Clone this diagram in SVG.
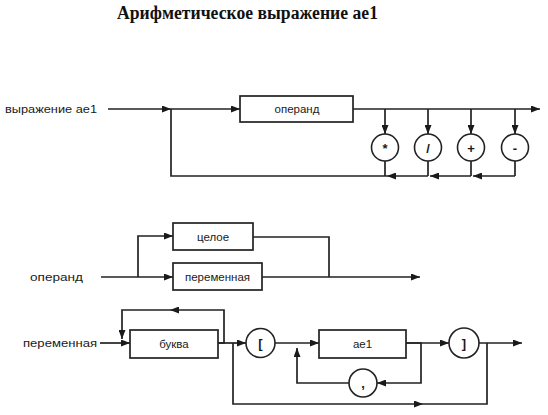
<svg xmlns="http://www.w3.org/2000/svg" width="548" height="415" viewBox="0 0 548 415">
<defs>
<marker id="ah" viewBox="0 0 9 7" refX="9" refY="3.5" markerWidth="9" markerHeight="7" markerUnits="userSpaceOnUse" orient="auto">
<path d="M0,0 L9,3.5 L0,7 z" fill="#1a1a1a"/>
</marker>
</defs>
<style>
.ln{fill:none;stroke:#222;stroke-width:1.7}
.ar{fill:none;stroke:#222;stroke-width:1.7;marker-end:url(#ah)}
.bx{fill:#fff;stroke:#222;stroke-width:1.7}
.ci{fill:#fff;stroke:#222;stroke-width:1.6}
.t{font-family:"Liberation Sans",Arial,sans-serif;font-size:11.5px;fill:#1a1a1a}
.s{font-family:"Liberation Sans",Arial,sans-serif;font-size:13px;font-weight:bold;fill:#1a1a1a}
.c{text-anchor:middle;dominant-baseline:central}
.title{font-family:"Liberation Serif","Times New Roman",serif;font-size:18px;font-weight:bold;fill:#111}
</style>
<rect width="548" height="415" fill="#fff"/>
<text class="title" x="117" y="19" textLength="261" lengthAdjust="spacingAndGlyphs">Арифметическое выражение ае1</text>

<text class="t" x="5" y="113" textLength="92" lengthAdjust="spacingAndGlyphs">выражение ае1</text>
<text class="t" x="30" y="281" textLength="53" lengthAdjust="spacingAndGlyphs">операнд</text>
<text class="t" x="23" y="347" textLength="74" lengthAdjust="spacingAndGlyphs">переменная</text>

<g id="connectors">
<path class="ar" d="M108,109 H171"/>
<path class="ar" d="M171,109 H240"/>
<path class="ar" d="M353,109 H540"/>
<path class="ar" d="M385,109 V134"/>
<path class="ar" d="M428,109 V134"/>
<path class="ar" d="M471,109 V134"/>
<path class="ar" d="M515,109 V134"/>
<path class="ln" d="M385,161 V176"/>
<path class="ln" d="M428,161 V176"/>
<path class="ln" d="M471,161 V176"/>
<path class="ln" d="M515,161 V176"/>
<path class="ar" d="M515,176 H473"/>
<path class="ar" d="M471,176 H430"/>
<path class="ar" d="M428,176 H387"/>
<path class="ln" d="M387,176 H171 V109"/>
<path class="ar" d="M101,277 H173"/>
<path class="ar" d="M138,277 V236 H173"/>
<path class="ln" d="M253,237 H329 V277"/>
<path class="ar" d="M262,277 H420"/>
<path class="ar" d="M100,343 H130"/>
<path class="ar" d="M218,343 H224 V310 H170"/>
<path class="ar" d="M170,310 H122 V339"/>
<path class="ar" d="M218,343 H246"/>
<path class="ar" d="M233,343 V404 H423"/>
<path class="ln" d="M423,404 H487 V343"/>
<path class="ar" d="M275,343 H319"/>
<path class="ar" d="M406,343 H421 V383 H377"/>
<path class="ar" d="M349,383 H297 V348"/>
<path class="ar" d="M406,343 H449"/>
<path class="ar" d="M479,343 H522"/>
</g>

<g id="n-operand1"><rect class="bx" x="240" y="96" width="113" height="26"/><text class="t c" x="297" y="109">операнд</text></g>
<g id="n-mul"><circle class="ci" cx="385" cy="147.5" r="13.5"/><text class="s c" x="385" y="148">*</text></g>
<g id="n-div"><circle class="ci" cx="428" cy="147.5" r="13.5"/><text class="s c" x="428" y="148">/</text></g>
<g id="n-plus"><circle class="ci" cx="471" cy="147.5" r="13.5"/><text class="s c" x="471" y="148">+</text></g>
<g id="n-minus"><circle class="ci" cx="515" cy="147.5" r="13.5"/><text class="s c" x="515" y="148">-</text></g>

<g id="n-integer"><rect class="bx" x="173" y="223" width="80" height="27"/><text class="t c" x="213" y="236.5">целое</text></g>
<g id="n-variable1"><rect class="bx" x="173" y="263" width="89" height="27"/><text class="t c" x="217.5" y="276.5">переменная</text></g>

<g id="n-letter"><rect class="bx" x="130" y="330" width="88" height="28"/><text class="t c" x="174" y="344">буква</text></g>
<g id="n-lbr"><circle class="ci" cx="260.5" cy="343" r="14.5"/><text class="s c" x="260.5" y="343">[</text></g>
<g id="n-ae1"><rect class="bx" x="319" y="330" width="87" height="28"/><text class="t c" x="362.5" y="344">ае1</text></g>
<g id="n-comma"><circle class="ci" cx="363" cy="383" r="14"/><text class="s c" x="363" y="383">,</text></g>
<g id="n-rbr"><circle class="ci" cx="464" cy="343" r="15"/><text class="s c" x="464" y="343">]</text></g>
</svg>
